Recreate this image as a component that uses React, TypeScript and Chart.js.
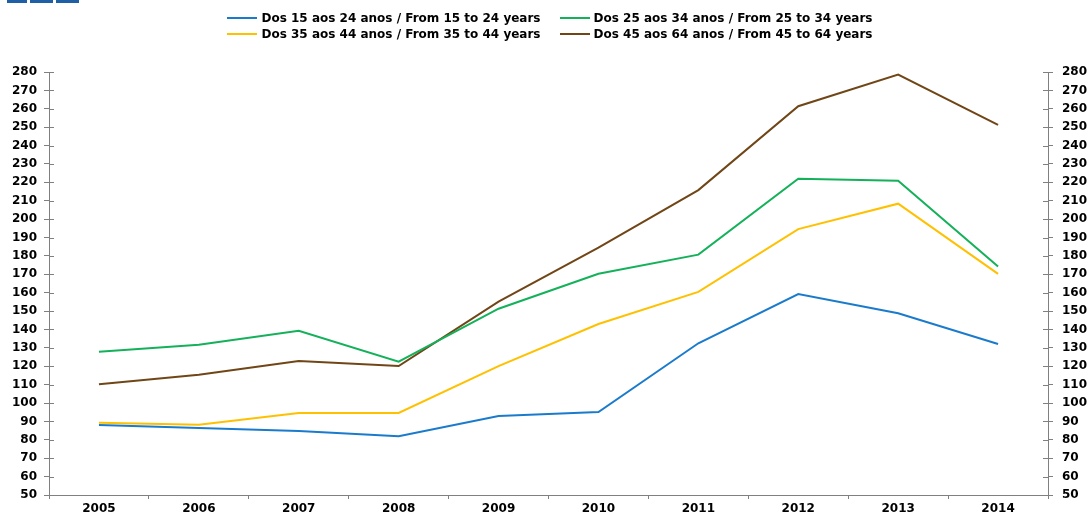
import React, { useEffect, useRef } from "react";
import { Chart, registerables } from "chart.js";

Chart.register(...registerables);

const years = ["2005", "2006", "2007", "2008", "2009", "2010", "2011", "2012", "2013", "2014"];
const from15to24 = [88.1, 86.4, 84.8, 81.9, 93.0, 95.1, 132.5, 159.3, 148.8, 132.1];
const from25to34 = [127.9, 131.7, 139.3, 122.5, 151.3, 170.3, 180.7, 222.0, 220.9, 174.2];
const from35to44 = [89.3, 88.2, 94.6, 94.6, 120.1, 143.0, 160.4, 194.6, 208.4, 170.2];
const from45to64 = [110.2, 115.4, 122.9, 120.1, 155.1, 184.5, 215.8, 261.4, 278.6, 251.2];
const seriesLabels = [
  "Dos 15 aos 24 anos / From 15 to 24 years",
  "Dos 25 aos 34 anos / From 25 to 34 years",
  "Dos 35 aos 44 anos / From 35 to 44 years",
  "Dos 45 aos 64 anos / From 45 to 64 years",
];
const seriesColors = ["#1A7BCC", "#14B15A", "#FFC000", "#704617"];
const yMin = 50;
const yMax = 280;
const yStep = 10;

const FONT_FAMILY = "'DejaVu Sans', sans-serif";
const FONT = { family: FONT_FAMILY, size: 12, weight: "bold" as const, lineHeight: 1 };
const AXIS_COLOR = "#808080";

// two-column legend drawn on the canvas from the datasets
const legendLayout = { centerX: 550, firstRowY: 18.5, rowGap: 16, lineLen: 30, textGap: 4, colGap: 19 };

const twoColLegendPlugin = {
  id: "twoColLegend",
  afterDraw(chart: any) {
    const ctx = chart.ctx;
    const ds = chart.data.datasets;
    ctx.save();
    ctx.font = `bold 12px ${FONT_FAMILY}`;
    ctx.textBaseline = "middle";
    ctx.textAlign = "left";
    const L = legendLayout;
    let colW = 0;
    ds.forEach((d: any) => {
      colW = Math.max(colW, L.lineLen + L.textGap + ctx.measureText(d.label).width);
    });
    const total = colW * 2 + L.colGap;
    const startX = L.centerX - total / 2;
    ds.forEach((d: any, i: number) => {
      const col = i % 2;
      const row = Math.floor(i / 2);
      const x = startX + col * (colW + L.colGap);
      const y = L.firstRowY + row * L.rowGap;
      ctx.fillStyle = d.borderColor;
      ctx.fillRect(Math.round(x), Math.round(y) - 2, L.lineLen, 2);
      ctx.fillStyle = "#000";
      ctx.fillText(d.label, x + L.lineLen + L.textGap, y);
    });
    ctx.restore();
  },
};

const innerTicksPlugin = {
  id: "innerTicks",
  afterDraw(chart: any) {
    const ctx = chart.ctx;
    const area = chart.chartArea;
    ctx.save();
    ctx.strokeStyle = AXIS_COLOR;
    ctx.lineWidth = 1;
    const yl = chart.scales.y;
    const yr = chart.scales.yRight;
    yl.ticks.forEach((_t: any, i: number) => {
      const py = Math.round(yl.getPixelForTick(i)) + 0.5;
      ctx.beginPath();
      ctx.moveTo(area.left, py);
      ctx.lineTo(area.left + 5, py);
      ctx.stroke();
    });
    yr.ticks.forEach((_t: any, i: number) => {
      const py = Math.round(yr.getPixelForTick(i)) + 0.5;
      ctx.beginPath();
      ctx.moveTo(area.right - 5, py);
      ctx.lineTo(area.right, py);
      ctx.stroke();
    });
    ctx.restore();
  },
};

export default function App() {
  const ref = useRef<HTMLCanvasElement | null>(null);

  useEffect(() => {
    if (!ref.current) return;
    const series = [from15to24, from25to34, from35to44, from45to64];
    const chart = new Chart(ref.current, {
      type: "line",
      data: {
        labels: years,
        datasets: series.map((d, i) => ({
          label: seriesLabels[i],
          data: d,
          borderColor: seriesColors[i],
          backgroundColor: seriesColors[i],
          borderWidth: 2,
          pointRadius: 0,
          tension: 0,
          fill: false,
        })),
      },
      options: {
        responsive: false,
        animation: false,
        layout: { padding: { left: 0, right: 0, top: 72, bottom: 0 } },
        plugins: {
          legend: { display: false },
          tooltip: { enabled: false },
          title: { display: false },
        },
        scales: {
          x: {
            type: "category",
            offset: true,
            afterFit: (s: any) => {
              s.height = 20;
            },
            grid: {
              offset: true,
              drawOnChartArea: false,
              drawTicks: true,
              tickLength: 4,
              color: AXIS_COLOR,
            },
            border: { display: true, color: AXIS_COLOR, width: 1 },
            ticks: { color: "#000", font: FONT, padding: 4, maxRotation: 0, autoSkip: false },
          },
          y: {
            type: "linear",
            position: "left",
            min: yMin,
            max: yMax,
            afterFit: (s: any) => {
              s.width = 49;
            },
            grid: { drawOnChartArea: false, drawTicks: true, tickLength: 5, color: AXIS_COLOR },
            border: { display: true, color: AXIS_COLOR, width: 1 },
            ticks: { stepSize: yStep, color: "#000", font: FONT, padding: 7, autoSkip: false },
          },
          yRight: {
            type: "linear",
            position: "right",
            min: yMin,
            max: yMax,
            afterFit: (s: any) => {
              s.width = 41;
            },
            grid: { drawOnChartArea: false, drawTicks: true, tickLength: 5, color: AXIS_COLOR },
            border: { display: true, color: AXIS_COLOR, width: 1 },
            ticks: { stepSize: yStep, color: "#000", font: FONT, padding: 9, autoSkip: false },
          },
        },
      },
      plugins: [twoColLegendPlugin, innerTicksPlugin],
    } as any);
    return () => chart.destroy();
  }, []);

  const logoBox = (left: number, width: number): React.CSSProperties => ({
    position: "absolute",
    left,
    top: 0,
    width,
    height: 3,
    background: "#1F5FA6",
  });

  return (
    <div style={{ position: "absolute", left: 0, top: 0, width: 1089, height: 515, background: "#fff" }}>
      <canvas ref={ref} width={1089} height={515} style={{ display: "block" }} />
      <div style={logoBox(7, 20)} />
      <div style={logoBox(30, 23)} />
      <div style={logoBox(56, 23)} />
    </div>
  );
}
